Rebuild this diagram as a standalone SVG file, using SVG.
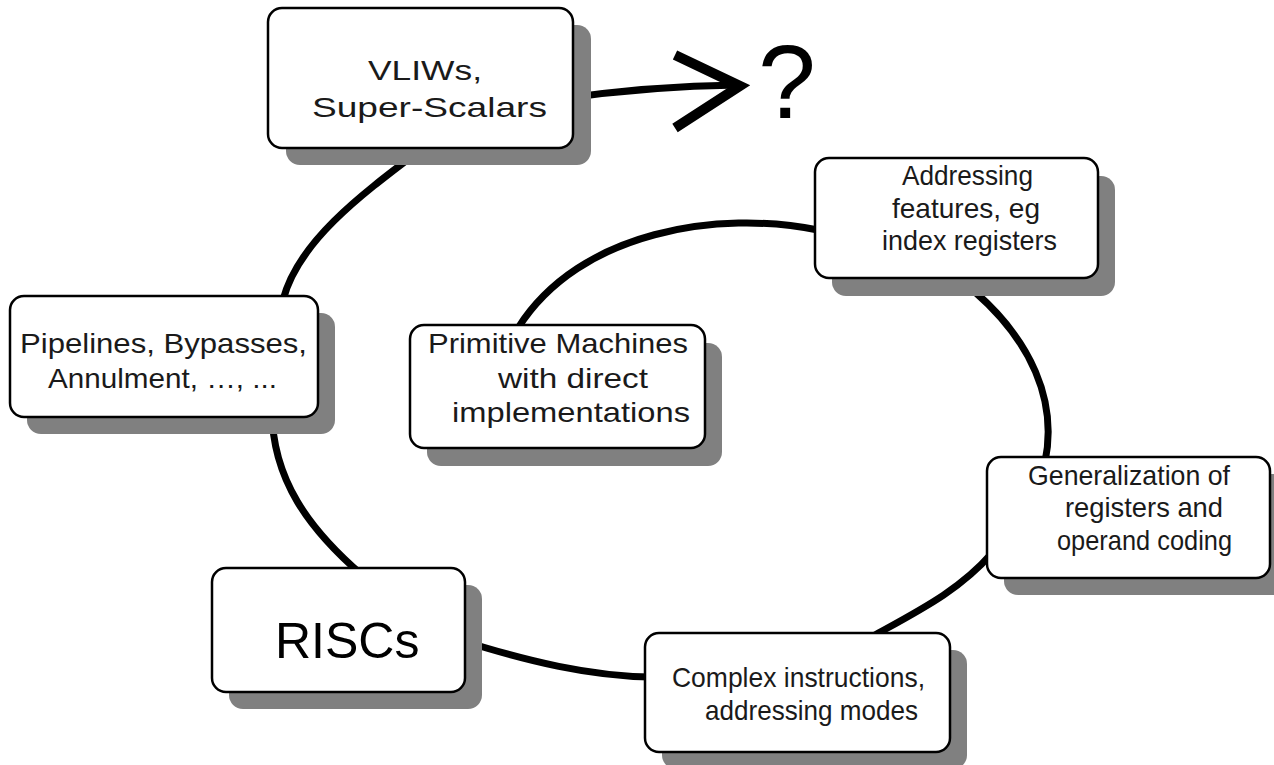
<svg xmlns="http://www.w3.org/2000/svg" width="1274" height="765" viewBox="0 0 1274 765">
  <style>
    .bg { fill: #ffffff; }
    .shadow { fill: #808080; }
    .box { fill: #ffffff; stroke: #000000; stroke-width: 2.5; }
    .wire { fill: none; stroke: #000000; stroke-width: 7; stroke-linecap: butt; }
    .head { fill: none; stroke: #000000; stroke-width: 10; stroke-linejoin: miter; stroke-miterlimit: 10; }
    .hand { font-family: "Liberation Sans", "DejaVu Sans", sans-serif; font-size: 28px; fill: #1a1a1a; }
    .big { font-family: "Liberation Sans", Arial, sans-serif; fill: #000000; }
  </style>
  <rect class="bg" x="0" y="0" width="1274" height="765"/>

  <!-- connectors: the evolution spiral, drawn beneath the boxes -->
  <g id="connectors">
    <path class="wire" d="M560,99 Q650,86 738,85"/>
    <path class="head" d="M675,55 L740,86 L675,128"/>
    <path class="wire" d="M440,135 C375,185 300,235 283,300"/>
    <path class="wire" d="M272,410 C272,480 310,530 362,575"/>
    <path class="wire" d="M460,640 C530,662 590,676 650,677"/>
    <path class="wire" d="M873,636 C920,610 960,590 992,553"/>
    <path class="wire" d="M1045,462 C1058,400 1030,340 975,292"/>
    <path class="wire" d="M818,230 C720,210 580,230 518,328"/>
  </g>

  <g id="node-vliw">
    <rect class="shadow" x="286" y="25" width="305" height="140" rx="14"/>
    <rect class="box" x="268" y="8" width="305" height="140" rx="14"/>
    <text class="hand" font-size="32" x="368" y="80" textLength="114" lengthAdjust="spacingAndGlyphs">VLIWs,</text>
    <text class="hand" font-size="32" x="312" y="117" textLength="235" lengthAdjust="spacingAndGlyphs">Super-Scalars</text>
  </g>

  <g id="node-unknown">
    <text class="big" font-size="104" x="758" y="118">?</text>
  </g>

  <g id="node-addressing">
    <rect class="shadow" x="832" y="176" width="283" height="120" rx="14"/>
    <rect class="box" x="815" y="158" width="283" height="120" rx="14"/>
    <text class="hand" x="902" y="185" textLength="131" lengthAdjust="spacingAndGlyphs">Addressing</text>
    <text class="hand" x="892" y="218" textLength="148" lengthAdjust="spacingAndGlyphs">features, eg</text>
    <text class="hand" x="882" y="250" textLength="175" lengthAdjust="spacingAndGlyphs">index registers</text>
  </g>

  <g id="node-primitive">
    <rect class="shadow" x="427" y="343" width="295" height="123" rx="14"/>
    <rect class="box" x="410" y="325" width="295" height="123" rx="14"/>
    <text class="hand" x="428" y="353" textLength="260" lengthAdjust="spacingAndGlyphs">Primitive Machines</text>
    <text class="hand" x="498" y="388" textLength="150" lengthAdjust="spacingAndGlyphs">with direct</text>
    <text class="hand" x="452" y="422" textLength="238" lengthAdjust="spacingAndGlyphs">implementations</text>
  </g>

  <g id="node-pipelines">
    <rect class="shadow" x="27" y="313" width="308" height="121" rx="14"/>
    <rect class="box" x="10" y="296" width="308" height="121" rx="14"/>
    <text class="hand" x="20" y="353" textLength="287" lengthAdjust="spacingAndGlyphs">Pipelines, Bypasses,</text>
    <text class="hand" x="48" y="388" textLength="229" lengthAdjust="spacingAndGlyphs">Annulment, …, ...</text>
  </g>

  <g id="node-riscs">
    <rect class="shadow" x="229" y="585" width="253" height="124" rx="14"/>
    <rect class="box" x="212" y="568" width="253" height="124" rx="14"/>
    <text class="big" font-size="50" x="275" y="658">RISCs</text>
  </g>

  <g id="node-generalization">
    <rect class="shadow" x="1004" y="474" width="283" height="121" rx="14"/>
    <rect class="box" x="987" y="457" width="283" height="121" rx="14"/>
    <text class="hand" x="1028" y="485" textLength="202" lengthAdjust="spacingAndGlyphs">Generalization of</text>
    <text class="hand" x="1065" y="517" textLength="158" lengthAdjust="spacingAndGlyphs">registers and</text>
    <text class="hand" x="1057" y="550" textLength="175" lengthAdjust="spacingAndGlyphs">operand coding</text>
  </g>

  <g id="node-complex">
    <rect class="shadow" x="662" y="650" width="305" height="119" rx="14"/>
    <rect class="box" x="645" y="633" width="305" height="119" rx="14"/>
    <text class="hand" x="672" y="687" textLength="253" lengthAdjust="spacingAndGlyphs">Complex instructions,</text>
    <text class="hand" x="705" y="720" textLength="213" lengthAdjust="spacingAndGlyphs">addressing modes</text>
  </g>
</svg>
